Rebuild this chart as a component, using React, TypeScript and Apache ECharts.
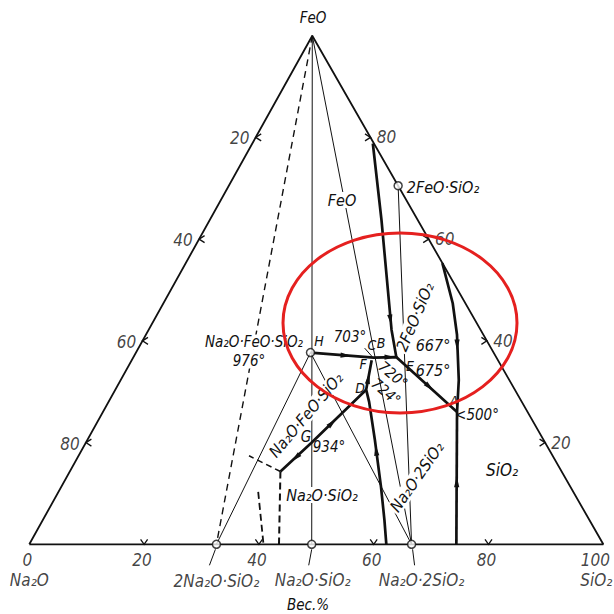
import React, { useEffect, useRef } from "react";
import * as echarts from "echarts";

// Compositions in wt.%: [FeO, SiO2]; Na2O = 100 - FeO - SiO2
const cornerNa2O = [0, 0];
const cornerFeO = [100, 0];
const cornerSiO2 = [0, 100];

const pt2Na2OSiO2 = [0, 32.6];
const ptNa2OSiO2 = [0, 49.2];
const ptNa2O2SiO2 = [0, 66.6];
const pt2FeOSiO2 = [70.5, 29.5];
const ptH = [37.7, 30.4];
const ptC = [36.7, 41.9];
const ptB = [36.8, 45.8];
const ptE = [36.2, 46.7];
const ptA = [26.0, 61.7];
const ptF = [36.2, 41.8];
const ptD = [30.4, 43.7];
const ptG = [19.9, 39.3];
const ptK = [14.3, 36.7];

// boundary curves (thick)
const curveFeO_Fayalite = [[78.8, 21.0], [63.8, 29.9], [42.2, 42.3], ptB];
const curveFayalite_SiO2 = [[55.3, 44.7], [47.4, 50.4], [41.2, 54.2], [32.3, 58.9], ptA];
const curveSiO2_NS2 = [[0, 74.4], ptA];
const curveH_A = [ptH, ptC, ptB, ptE, ptA];
const curveF_base = [ptF, ptD, [28.0, 45.4], [20.5, 50.1], [11.3, 55.7], [4.8, 59.5], [0, 62.2]];
const curveK_D = [ptK, ptG, ptD];

// dashed lines
const dashedApex = [cornerFeO, pt2Na2OSiO2];
const dashedKBase = [ptK, [0, 43.5]];
const dashedKUp = [ptK, [17.4, 29.7]];
const dashedShort = [[10.3, 34.8], [0, 40.8]];

// thin joins
const joins = [
  [cornerFeO, ptNa2OSiO2],
  [cornerFeO, ptNa2O2SiO2],
  [pt2FeOSiO2, ptNa2O2SiO2],
  [ptH, pt2Na2OSiO2],
  [ptH, ptNa2O2SiO2],
];

// arrows: [position, toward]
const arrows = [
  [[44.1, 41.2], ptB],
  [[39.2, 55.2], ptA],
  [[12.3, 68.4], ptA],
  [[37.1, 36.9], ptC],
  [[36.8, 44.7], ptB],
  [[30.9, 54.5], ptA],
  [[32.6, 43.0], ptF],
  [[18.5, 51.3], [20.5, 50.1]],
  [[23.9, 41.0], ptD],
  [[17.0, 38.0], ptK],
];

const compoundPoints = [pt2Na2OSiO2, ptNa2OSiO2, ptNa2O2SiO2, pt2FeOSiO2, ptH];
const baseCompoundNames = ["2Na₂O·SiO₂", "Na₂O·SiO₂", "Na₂O·2SiO₂"];
const tickValues = [20, 40, 60, 80];
const baseLabelValues = [0, 20, 40, 60, 80];
const lastBaseLabel = 100;
const cornerNames = ["Na₂O", "SiO₂"];

const SKEW = 0.493;
const toXY = (p: number[]) => [p[1] + SKEW * p[0], p[0]];
const FONT = "'Liberation Sans Narrow','DejaVu Sans Condensed','DejaVu Sans',sans-serif";
const INK = "#111";

const annotations = [
  { t: "FeO", x: 313, y: 18, s: 15 },
  { t: "2FeO·SiO₂", x: 443, y: 187, s: 16 },
  { t: "FeO", x: 342, y: 200, s: 16, bg: true },
  { t: "Na₂O·FeO·SiO₂", x: 254, y: 342, s: 15, bg: true },
  { t: "976°", x: 249, y: 361, s: 15, bg: true },
  { t: "H", x: 319, y: 341, s: 14 },
  { t: "703°", x: 350, y: 337, s: 15 },
  { t: "C", x: 372, y: 345, s: 14 },
  { t: "B", x: 381, y: 343, s: 14 },
  { t: "2FeO·SiO₂", x: 415, y: 317, s: 16, r: 1.17, bg: true },
  { t: "667°", x: 433, y: 345, s: 16 },
  { t: "F", x: 363, y: 364, s: 14 },
  { t: "E", x: 410, y: 366, s: 14 },
  { t: "675°", x: 433, y: 370, s: 16 },
  { t: "720°", x: 393, y: 375, s: 15, r: -0.7 },
  { t: "D", x: 360, y: 388, s: 14 },
  { t: "724°", x: 386, y: 392, s: 15, r: -0.7 },
  { t: "A", x: 454, y: 401, s: 14 },
  { t: "<500°", x: 477, y: 415, s: 15 },
  { t: "SiO₂", x: 502, y: 470, s: 17 },
  { t: "G", x: 306, y: 437, s: 15 },
  { t: "934°", x: 329, y: 447, s: 15 },
  { t: "Na₂O·FeO·SiO₂", x: 306, y: 415, s: 16, r: 0.87, bg: true },
  { t: "Na₂O·SiO₂", x: 322, y: 495, s: 16, bg: true },
  { t: "Na₂O·2SiO₂", x: 417, y: 477, s: 16, r: 0.96, bg: true },
  { t: "Вес.%", x: 308, y: 605, s: 15 },
];

const tickArms: Record<number, number[][]> = {
  0: [[5.5, -3.5], [5.5, 3.5]],
  1: [[-5.5, -3.5], [-5.5, 3.5]],
  2: [[-3.5, -5], [3.5, -5]],
};
const leaderOffsets: number[][][] = [
  [[-1, 5], [-7, 21]],
  [[0, 5], [-3, 21]],
  [[1, 5], [3, 21]],
  [[-9, -9.5], [-1.5, -1]],
];

export default function App() {
  const ref = useRef<HTMLDivElement>(null);
  useEffect(() => {
    const chart = echarts.init(ref.current!, null, { renderer: "svg" });
    const lineS = (data: number[][], width: number, z: number, dash?: number[]) => ({
      type: "line",
      data: data.map(toXY),
      symbol: "none",
      silent: true,
      z,
      lineStyle: { color: INK, width, type: dash ? dash : "solid", cap: "butt" },
    });
    const labelBase = { fontFamily: FONT, fontStyle: "italic", color: INK };
    const series: any[] = [];
    series.push(lineS([cornerNa2O, cornerFeO, cornerSiO2, cornerNa2O], 1.8, 3));
    joins.forEach((j) => series.push(lineS(j, 1, 2)));
    series.push(lineS(dashedApex, 1.4, 2, [7, 5]));
    series.push(lineS(dashedKBase, 2, 3, [7, 4]));
    series.push(lineS(dashedKUp, 1.6, 3, [6, 4]));
    series.push(lineS(dashedShort, 1.8, 3, [7, 4]));
    [curveFeO_Fayalite, curveFayalite_SiO2, curveSiO2_NS2, curveH_A, curveF_base, curveK_D].forEach((c) =>
      series.push(lineS(c, 2.7, 10))
    );
    series.push({
      type: "custom",
      z: 11,
      silent: true,
      encode: { x: 0, y: 1 },
      data: arrows.map(([a, t]) => [...toXY(a), ...toXY(t)]),
      renderItem: (_p: any, api: any) => {
        const p = api.coord([api.value(0), api.value(1)]);
        const q = api.coord([api.value(2), api.value(3)]);
        let dx = q[0] - p[0], dy = q[1] - p[1];
        const L = Math.hypot(dx, dy) || 1;
        dx /= L; dy /= L;
        const len = 5.5, hw = 2.6;
        const tip = [p[0] + dx * len, p[1] + dy * len];
        const b = [p[0] - dx * len, p[1] - dy * len];
        return {
          type: "polygon",
          shape: { points: [tip, [b[0] - dy * hw, b[1] + dx * hw], [b[0] + dy * hw, b[1] - dx * hw]] },
          style: { fill: INK },
        };
      },
    });
    const tickData = [
      ...tickValues.map((v) => [...toXY([100 - v, 0]), 0]),
      ...tickValues.map((v) => [...toXY([v, 100 - v]), 1]),
      ...tickValues.map((v) => [...toXY([0, v]), 2]),
    ];
    series.push({
      type: "custom",
      z: 11,
      silent: true,
      encode: { x: 0, y: 1 },
      data: tickData,
      renderItem: (_p: any, api: any) => {
        const p = api.coord([api.value(0), api.value(1)]);
        const arms = tickArms[api.value(2)];
        return {
          type: "polyline",
          shape: { points: [[p[0] + arms[0][0], p[1] + arms[0][1]], p, [p[0] + arms[1][0], p[1] + arms[1][1]]] },
          style: { stroke: INK, lineWidth: 1.3, fill: "none" },
        };
      },
    });
    series.push({
      type: "custom",
      z: 11,
      silent: true,
      encode: { x: 0, y: 1 },
      data: [
        [...toXY(pt2Na2OSiO2), 0],
        [...toXY(ptNa2OSiO2), 1],
        [...toXY(ptNa2O2SiO2), 2],
        [...toXY(ptC), 3],
      ],
      renderItem: (_p: any, api: any) => {
        const p = api.coord([api.value(0), api.value(1)]);
        const o = leaderOffsets[api.value(2)];
        return {
          type: "line",
          shape: { x1: p[0] + o[0][0], y1: p[1] + o[0][1], x2: p[0] + o[1][0], y2: p[1] + o[1][1] },
          style: { stroke: INK, lineWidth: 1 },
        };
      },
    });
    series.push({
      type: "scatter",
      z: 12,
      silent: true,
      symbol: "circle",
      symbolSize: 8,
      itemStyle: { color: "#fff", borderColor: INK, borderWidth: 1.5 },
      data: compoundPoints.map(toXY),
    });
    const textSeries = (data: any[], fontSize: number, offset: number[]) => ({
      type: "scatter",
      z: 12,
      silent: true,
      symbolSize: 1,
      itemStyle: { color: "transparent" },
      data,
      label: { show: true, formatter: "{b}", position: "inside", offset, fontSize, ...labelBase },
    });
    series.push(textSeries(tickValues.map((v) => ({ name: String(v), value: toXY([100 - v, 0]) })), 17, [-16, 1]));
    series.push(textSeries(tickValues.map((v) => ({ name: String(v), value: toXY([v, 100 - v]) })), 17, [16, 0]));
    series.push(textSeries(baseLabelValues.map((v) => ({ name: String(v), value: toXY([0, v]) })), 17, [-2, 16]));
    series.push(textSeries([{ name: String(lastBaseLabel), value: toXY([0, lastBaseLabel]) }], 17, [-8, 16]));
    series.push(textSeries([{ name: cornerNames[0], value: toXY(cornerNa2O) }], 17, [0, 36]));
    series.push(textSeries([{ name: cornerNames[1], value: toXY(cornerSiO2) }], 17, [-7, 36]));
    series.push(textSeries([{ name: baseCompoundNames[0], value: toXY(pt2Na2OSiO2) }], 17, [0, 37]));
    series.push(textSeries([{ name: baseCompoundNames[1], value: toXY(ptNa2OSiO2) }], 17, [1, 36]));
    series.push(textSeries([{ name: baseCompoundNames[2], value: toXY(ptNa2O2SiO2) }], 17, [10, 36]));

    const graphic: any[] = annotations.map((a) => ({
      type: "text",
      x: a.x,
      y: a.y,
      rotation: a.r || 0,
      z: 5,
      silent: true,
      style: {
        text: a.t,
        font: `italic ${a.s}px ${FONT}`,
        fill: INK,
        align: "center",
        verticalAlign: "middle",
        textAlign: "center",
        textVerticalAlign: "middle",
        backgroundColor: a.bg ? "#fff" : undefined,
        padding: a.bg ? [0, 2] : undefined,
      },
    }));
    graphic.push({
      type: "ellipse",
      z: 50,
      silent: true,
      shape: { cx: 400, cy: 323, rx: 117, ry: 90 },
      style: { fill: "none", stroke: "#e5201f", lineWidth: 3 },
    });

    chart.setOption({
      animation: false,
      backgroundColor: "#fff",
      grid: { left: 0, right: 0, top: 0, bottom: 0 },
      xAxis: { type: "value", min: -5.1045, max: 101.864, show: false },
      yAxis: { type: "value", min: -13.704, max: 107.019, show: false },
      series,
      graphic,
    });
    return () => chart.dispose();
  }, []);
  return (
    <div
      ref={ref}
      style={{ position: "absolute", left: 0, top: 0, width: 614, height: 614, background: "#fff" }}
    />
  );
}
